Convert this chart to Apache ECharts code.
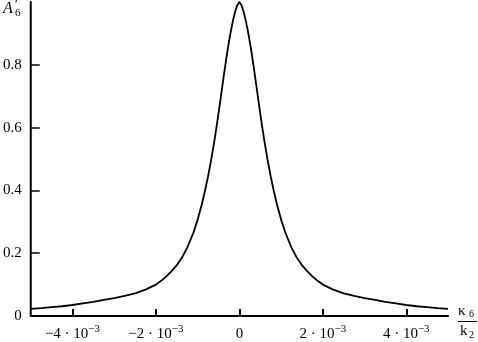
<!DOCTYPE html>
<html>
<head>
<meta charset="utf-8">
<script src="https://cdn.jsdelivr.net/npm/echarts@6/dist/echarts.min.js"></script>
<style>html,body{margin:0;padding:0;background:#fff}#c{width:478px;height:342px}</style>
</head>
<body>
<div id="c"></div>
<script>
// x in units of 1e-3 (kappa_6 / k_2)
const kappaMilli = [-5,-4.75,-4.5,-4.25,-4,-3.75,-3.5,-3.25,-3,-2.75,-2.5,-2.25,-2,-1.875,-1.75,-1.625,-1.5,-1.375,-1.25,-1.1,-1,
  -0.9,-0.825,-0.75,-0.675,-0.6,-0.55,-0.5,-0.45,-0.4,-0.35,-0.3,-0.25,-0.2,-0.15,-0.1,-0.05,0,
  0.05,0.1,0.15,0.2,0.25,0.3,0.35,0.4,0.45,0.5,0.55,0.6,0.675,0.75,0.825,0.9,
  1,1.1,1.25,1.375,1.5,1.625,1.75,1.875,2,2.25,2.5,2.75,3,3.25,3.5,3.75,4,4.25,4.5,4.75,5];
const amplitude = [0.023,0.025,0.028,0.031,0.035,0.040,0.045,0.051,0.057,0.064,0.072,0.084,0.100,0.112,0.126,0.143,0.162,0.186,0.218,0.266,0.307,
  0.356,0.398,0.445,0.498,0.557,0.600,0.645,0.692,0.740,0.787,0.832,0.873,0.910,0.943,0.970,0.990,1.000,
  0.990,0.970,0.943,0.910,0.873,0.832,0.787,0.740,0.692,0.645,0.600,0.557,0.498,0.445,0.398,0.356,
  0.307,0.266,0.218,0.186,0.162,0.143,0.126,0.112,0.100,0.084,0.072,0.064,0.057,0.051,0.045,0.040,0.035,0.031,0.028,0.025,0.023];
const xTicks = [-4,-2,0,2,4];
const yTicks = [0,0.2,0.4,0.6,0.8];

const serif = '"Liberation Serif", "DejaVu Serif", serif';
const chart = echarts.init(document.getElementById('c'), null, {renderer:'canvas'});
chart.setOption({
  animation:false,
  backgroundColor:'#fff',
  grid:{left:28,right:30,top:2,bottom:25,containLabel:false},
  xAxis:{
    type:'value', min:-5, max:5,
    axisLine:{onZero:false,lineStyle:{color:'#000',width:2}},
    axisTick:{show:true,inside:true,length:7,lineStyle:{color:'#000',width:2},customValues:xTicks},
    axisLabel:{color:'#000',margin:8,fontFamily:serif,fontSize:15,customValues:xTicks,
      formatter:function(v){ if(v===0) return '{n|0}'; return '{n|'+(v<0?'\u2212':'')+Math.abs(v)+' \u00B7 10}{s|\u22123}'; },
      rich:{n:{fontFamily:serif,fontSize:15,color:'#000',lineHeight:18,verticalAlign:'bottom'},
            s:{fontFamily:serif,fontSize:11,color:'#000',lineHeight:10,verticalAlign:'top'}}},
    splitLine:{show:false}
  },
  yAxis:{
    type:'value', min:0, max:1,
    axisLine:{show:true,onZero:false,lineStyle:{color:'#000',width:2}},
    axisTick:{show:true,inside:true,length:9,lineStyle:{color:'#000',width:1.5},customValues:yTicks},
    axisLabel:{color:'#000',margin:9,fontFamily:serif,fontSize:15,customValues:yTicks,
      formatter:function(v){return v===0?'0':v.toFixed(1);}},
    splitLine:{show:false}
  },
  series:[{
    type:'line',
    data:kappaMilli.map((x,i)=>[x,amplitude[i]]),
    showSymbol:false,
    smooth:false,
    lineStyle:{color:'#000',width:1.8,join:'round'},
    clip:false
  }],
  graphic:[
    {type:'text',left:3,top:1,style:{text:'A',font:'italic 16px '+serif,fill:'#000'}},
    {type:'text',left:15,top:-1,style:{text:'\u2032',font:'12px '+serif,fill:'#000'}},
    {type:'text',left:15,top:8,style:{text:'6',font:'11px '+serif,fill:'#000'}},
    {type:'text',left:458,top:304,style:{text:'\u03BA',font:'15px '+serif,fill:'#000'}},
    {type:'text',left:469,top:309,style:{text:'6',font:'10px '+serif,fill:'#000'}},
    {type:'line',shape:{x1:458,y1:321.5,x2:477,y2:321.5},style:{stroke:'#000',lineWidth:1}},
    {type:'text',left:460,top:324,style:{text:'k',font:'15px '+serif,fill:'#000'}},
    {type:'text',left:469,top:330,style:{text:'2',font:'10px '+serif,fill:'#000'}}
  ]
});
</script>
</body>
</html>
